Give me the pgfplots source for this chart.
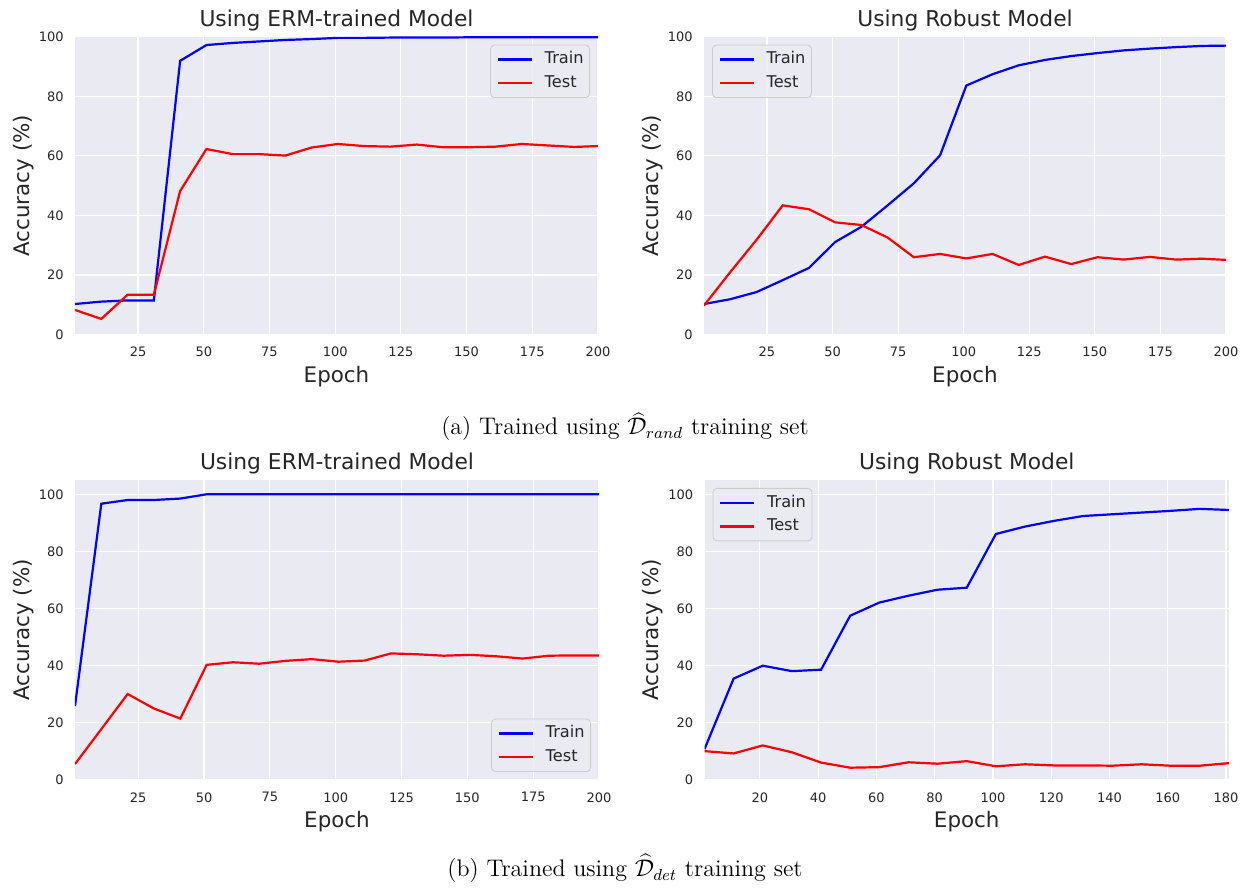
\documentclass[border=0pt]{standalone}
\usepackage{pgfplots}
\pgfplotsset{compat=1.18}
\usepackage{fontspec}
\newfontfamily\dv{DejaVu Sans}
\definecolor{bgc}{HTML}{EAEAF2}
\definecolor{tc}{HTML}{262626}
\definecolor{lgedge}{HTML}{CCCCCC}
\pgfplotsset{
 sb/.style={
  scale only axis,
  axis background/.style={fill=bgc},
  axis line style={draw=none},
  major tick length=0pt,
  grid=major,
  major grid style={white, line width=0.6pt},
  ymin=0, ytick={0,20,40,60,80,100},
  /pgf/number format/assume math mode=true,
  tick label style={font=\dv\fontsize{6.5}{7.8}\selectfont, text=tc, inner sep=0pt},
  xticklabel style={anchor=north, yshift=-6pt},
  yticklabel style={anchor=east, xshift=-5.5pt},
  every axis title/.style={font=\dv\fontsize{10.9}{13}\selectfont, text=tc, at={(axis description cs:0.5,1)}, anchor=base, yshift=5pt, inner sep=0pt},
  every axis x label/.style={font=\dv\fontsize{10.7}{12.8}\selectfont, text=tc, at={(axis description cs:0.5,0)}, anchor=base, yshift=-24pt, inner sep=0pt},
  every axis y label/.style={font=\dv\fontsize{10.7}{12.8}\selectfont, text=tc, at={(axis description cs:0,0.5)}, xshift=-23pt, rotate=90, anchor=base, inner sep=0pt},
  xlabel={Epoch}, ylabel={Accuracy (\%)},
  legend style={draw=lgedge, fill=bgc, fill opacity=0.8, text opacity=1, rounded corners=2pt,
    font=\dv\fontsize{8.1}{9.7}\selectfont, text=tc, inner xsep=3pt, inner ysep=3.5pt, row sep=4.45pt,
    nodes={inner sep=0pt, text height=5.9pt, text depth=1.5pt},
    /tikz/every odd column/.append style={column sep=6pt}},
  legend cell align=left,
  legend image code/.code={\draw[#1, line width=1.1pt] (0pt,0pt) -- (17pt,0pt);},
 },
 tr/.style={blue, line width=1.1pt},
 te/.style={red, line width=1.1pt},
}
\begin{document}
\begin{tikzpicture}
\path[use as bounding box] (0,0) rectangle (621.5pt,444pt);
% top-left
\begin{axis}[sb, at={(37.5pt,276.65pt)}, anchor=south west, width=261.5pt, height=149pt,
  xmin=1, xmax=200, ymax=100, xtick={25,50,75,100,125,150,175,200},
  title={Using ERM-trained Model},
  legend style={at={(1,1)}, anchor=north east, xshift=-4pt, yshift=-4pt}]
\addplot[tr] coordinates {(1,10.3)(11,11.1)(21,11.5)(31,11.5)(41,91.9)(51,97.2)(61,97.9)(71,98.4)(81,98.9)(91,99.2)(101,99.6)(111,99.6)(121,99.7)(131,99.7)(141,99.7)(151,99.8)(161,99.8)(171,99.8)(181,99.8)(191,99.8)(200,99.8)};
\addplot[te] coordinates {(1,8.3)(11,5.3)(21,13.4)(31,13.4)(41,48.2)(51,62.3)(61,60.6)(71,60.6)(81,60.1)(91,62.8)(101,64.0)(111,63.3)(121,63.1)(131,63.8)(141,62.9)(151,62.9)(161,63.1)(171,64.0)(181,63.5)(191,63.0)(200,63.3)};
\legend{Train,Test}
\end{axis}
% top-right
\begin{axis}[sb, at={(352pt,276.65pt)}, anchor=south west, width=261pt, height=149pt,
  xmin=1, xmax=200, ymax=100, xtick={25,50,75,100,125,150,175,200},
  title={Using Robust Model},
  legend style={at={(0,1)}, anchor=north west, xshift=4pt, yshift=-4pt}]
\addplot[tr] coordinates {(1,10.3)(11,11.9)(21,14.3)(31,18.3)(41,22.4)(51,31.1)(61,36.2)(71,43.4)(81,50.8)(91,60.2)(101,83.6)(111,87.4)(121,90.4)(131,92.2)(141,93.5)(151,94.5)(161,95.4)(171,96.0)(181,96.5)(191,96.9)(200,97.0)};
\addplot[te] coordinates {(1,9.8)(11,21.0)(21,31.8)(31,43.4)(41,42.1)(51,37.7)(61,36.8)(71,32.6)(81,26.0)(91,27.1)(101,25.6)(111,27.1)(121,23.4)(131,26.2)(141,23.7)(151,26.0)(161,25.2)(171,26.1)(181,25.2)(191,25.5)(200,25.1)};
\legend{Train,Test}
\end{axis}
% bottom-left
\begin{axis}[sb, at={(37.5pt,54pt)}, anchor=south west, width=262pt, height=150pt,
  xmin=1, xmax=200, ymax=105, xtick={25,50,75,100,125,150,175,200},
  title={Using ERM-trained Model},
  legend style={at={(1,0)}, anchor=south east, xshift=-4pt, yshift=4pt}]
\addplot[tr] coordinates {(1,25.9)(11,96.7)(21,98.0)(31,98.0)(41,98.5)(51,100)(61,100)(71,100)(81,100)(91,100)(101,100)(111,100)(121,100)(131,100)(141,100)(151,100)(161,100)(171,100)(181,100)(191,100)(200,100)};
\addplot[te] coordinates {(1,5.6)(11,17.8)(21,30.1)(31,25.0)(41,21.5)(51,40.3)(61,41.2)(71,40.7)(81,41.7)(91,42.3)(101,41.4)(111,41.8)(121,44.3)(131,44.0)(141,43.5)(151,43.8)(161,43.3)(171,42.5)(181,43.5)(191,43.6)(200,43.6)};
\legend{Train,Test}
\end{axis}
% bottom-right
\begin{axis}[sb, at={(352.25pt,54pt)}, anchor=south west, width=262.25pt, height=150pt,
  xmin=1, xmax=181, ymax=105, xtick={20,40,60,80,100,120,140,160,180},
  title={Using Robust Model},
  legend style={at={(0,1)}, anchor=north west, xshift=4pt, yshift=-4pt}]
\addplot[tr] coordinates {(1,10.8)(11,35.5)(21,40.0)(31,38.1)(41,38.6)(51,57.5)(61,62.1)(71,64.5)(81,66.6)(91,67.3)(101,86.1)(111,88.7)(121,90.7)(131,92.4)(141,93.0)(151,93.6)(161,94.2)(171,94.9)(181,94.5)};
\addplot[te] coordinates {(1,10.1)(11,9.3)(21,12.1)(31,9.7)(41,6.1)(51,4.3)(61,4.5)(71,6.2)(81,5.7)(91,6.6)(101,4.8)(111,5.5)(121,5.1)(131,5.1)(141,5.0)(151,5.5)(161,5.0)(171,5.0)(181,5.9)};
\legend{Train,Test}
\end{axis}
\node[anchor=base, inner sep=0pt, font=\fontsize{12}{14.4}\selectfont] at (312.5pt,226.5pt) {(a) Trained using $\widehat{\mathcal{D}}_{rand}$ training set};
\node[anchor=base, inner sep=0pt, font=\fontsize{12}{14.4}\selectfont] at (312.5pt,5.65pt) {(b) Trained using $\widehat{\mathcal{D}}_{det}$ training set};
\end{tikzpicture}
\end{document}
